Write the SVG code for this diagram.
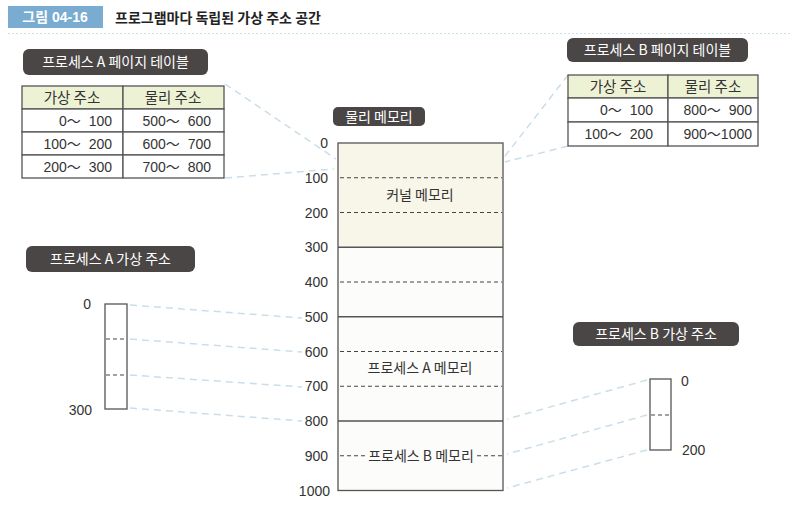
<svg xmlns="http://www.w3.org/2000/svg" width="792" height="517" viewBox="0 0 792 517">
<style>
text{font-family:"Liberation Sans","Noto Sans CJK KR",sans-serif;fill:#333;}
.pill rect{fill:#4a4646;}
.pill text{fill:#fff;font-size:14px;text-anchor:middle;font-family:"Noto Sans CJK KR","Liberation Sans",sans-serif;}
.cell{fill:#fff;stroke:#555;stroke-width:1.3;}
.hdr{fill:#eef2d5;stroke:#555;stroke-width:1.3;}
.t{font-size:14px;white-space:pre;}
.th{font-size:14.5px;text-anchor:middle;font-family:"Noto Sans CJK KR","Liberation Sans",sans-serif;}
.r{text-anchor:end;}
.num{font-size:14px;text-anchor:end;}
.box{stroke:#555;stroke-width:1.3;}
.dash{stroke:#444;stroke-width:1.2;stroke-dasharray:4 3;fill:none;}
.solid{stroke:#555;stroke-width:1.3;fill:none;}
.conn line{stroke:#cadeea;stroke-width:1.5;stroke-dasharray:7 5;fill:none;}
.lbl{font-size:14px;text-anchor:middle;font-family:"Noto Sans CJK KR","Liberation Sans",sans-serif;}
</style>

<g id="header">
<rect x="8" y="6" width="95" height="22" fill="#79acd0"/>
<text x="55" y="22" font-size="14" font-weight="bold" text-anchor="middle" style="fill:#fff">그림 04-16</text>
<text x="115" y="22.5" font-size="14" font-weight="bold" style="fill:#222;font-family:'Noto Sans CJK KR',sans-serif">프로그램마다 독립된 가상 주소 공간</text>
<line x1="8" y1="33.5" x2="792" y2="33.5" stroke="#cfe0ec" stroke-width="1.2" stroke-dasharray="2 2"/>
</g>

<g class="conn" id="connectors">
<line x1="225" y1="84" x2="336" y2="159"/>
<line x1="225" y1="178" x2="334" y2="169"/>
<line x1="568" y1="75" x2="502" y2="160"/>
<line x1="568" y1="146" x2="505" y2="162"/>
<line x1="130" y1="305" x2="302" y2="318"/>
<line x1="130" y1="339" x2="302" y2="352"/>
<line x1="130" y1="375" x2="302" y2="387"/>
<line x1="130" y1="408" x2="302" y2="421"/>
<line x1="647" y1="380" x2="507" y2="419"/>
<line x1="647" y1="415" x2="507" y2="454"/>
<line x1="647" y1="450" x2="507" y2="488"/>
</g>

<g id="tableA">
<g class="pill"><rect x="23" y="49" width="185" height="26" rx="6"/><text x="115.5" y="67">프로세스 A 페이지 테이블</text></g>
<rect class="hdr" x="22" y="86" width="101" height="23"/>
<rect class="hdr" x="123" y="86" width="101" height="23"/>
<rect class="cell" x="22" y="109" width="101" height="23"/>
<rect class="cell" x="123" y="109" width="101" height="23"/>
<rect class="cell" x="22" y="132" width="101" height="23"/>
<rect class="cell" x="123" y="132" width="101" height="23"/>
<rect class="cell" x="22" y="155" width="101" height="23"/>
<rect class="cell" x="123" y="155" width="101" height="23"/>
<text class="th" x="72" y="103">가상 주소</text>
<text class="th" x="173" y="103">물리 주소</text>
<text class="t r" x="112" y="126">0～  100</text>
<text class="t r" x="112" y="149">100～  200</text>
<text class="t r" x="112" y="172">200～  300</text>
<text class="t r" x="211" y="126">500～  600</text>
<text class="t r" x="211" y="149">600～  700</text>
<text class="t r" x="211" y="172">700～  800</text>
</g>

<g id="tableB">
<g class="pill"><rect x="567" y="38" width="181" height="24" rx="6"/><text x="657.5" y="55">프로세스 B 페이지 테이블</text></g>
<rect class="hdr" x="568" y="75" width="100" height="23"/>
<rect class="hdr" x="668" y="75" width="90" height="23"/>
<rect class="cell" x="568" y="98" width="100" height="24"/>
<rect class="cell" x="668" y="98" width="90" height="24"/>
<rect class="cell" x="568" y="122" width="100" height="24"/>
<rect class="cell" x="668" y="122" width="90" height="24"/>
<text class="th" x="618" y="92">가상 주소</text>
<text class="th" x="713" y="92">물리 주소</text>
<text class="t r" x="653" y="115">0～  100</text>
<text class="t r" x="653" y="139">100～  200</text>
<text class="t r" x="752" y="115">800～  900</text>
<text class="t r" x="752" y="139">900～1000</text>
</g>

<g id="physical-memory">
<g class="pill"><rect x="333" y="107" width="92" height="19" rx="5"/><text x="379" y="121.5">물리 메모리</text></g>
<rect x="338" y="143" width="165" height="104.25" fill="#f8f6e9"/>
<rect x="338" y="247.25" width="165" height="243.25" fill="#fcfcfb"/>
<rect class="solid" x="338" y="143" width="165" height="347.5"/>
<line class="dash" x1="340" y1="177.75" x2="502" y2="177.75"/>
<line class="dash" x1="340" y1="212.5" x2="502" y2="212.5"/>
<line class="solid" x1="338" y1="247.25" x2="503" y2="247.25"/>
<line class="dash" x1="340" y1="282" x2="502" y2="282"/>
<line class="solid" x1="338" y1="316.75" x2="503" y2="316.75"/>
<line class="dash" x1="340" y1="351.5" x2="502" y2="351.5"/>
<line class="dash" x1="340" y1="386.25" x2="502" y2="386.25"/>
<line class="solid" x1="338" y1="421" x2="503" y2="421"/>
<line class="dash" x1="340" y1="455.75" x2="366" y2="455.75"/>
<line class="dash" x1="477" y1="455.75" x2="502" y2="455.75"/>
<text class="lbl" x="420" y="200">커널 메모리</text>
<text class="lbl" x="420" y="373">프로세스 A 메모리</text>
<text class="lbl" x="421" y="461">프로세스 B 메모리</text>
<text class="num" x="328" y="148">0</text>
<text class="num" x="328" y="183">100</text>
<text class="num" x="328" y="217.5">200</text>
<text class="num" x="328" y="252">300</text>
<text class="num" x="328" y="287">400</text>
<text class="num" x="328" y="322">500</text>
<text class="num" x="328" y="356.5">600</text>
<text class="num" x="328" y="391">700</text>
<text class="num" x="328" y="426">800</text>
<text class="num" x="328" y="461">900</text>
<text class="num" x="330" y="495.5">1000</text>
</g>

<g id="processA">
<g class="pill"><rect x="26" y="246" width="169" height="26" rx="6"/><text x="110.5" y="264">프로세스 A 가상 주소</text></g>
<rect class="box" x="105" y="304" width="22" height="105" fill="#fff"/>
<line class="dash" x1="106" y1="339" x2="126" y2="339"/>
<line class="dash" x1="106" y1="375" x2="126" y2="375"/>
<text class="num" x="91" y="309">0</text>
<text class="num" x="92" y="415">300</text>
</g>

<g id="processB">
<g class="pill"><rect x="573" y="322" width="166" height="24" rx="6"/><text x="656" y="339">프로세스 B 가상 주소</text></g>
<rect class="box" x="650" y="379" width="21" height="71" fill="#fff"/>
<line class="dash" x1="651" y1="415" x2="670" y2="415"/>
<text class="t" x="681" y="386">0</text>
<text class="t" x="682" y="455">200</text>
</g>
</svg>
